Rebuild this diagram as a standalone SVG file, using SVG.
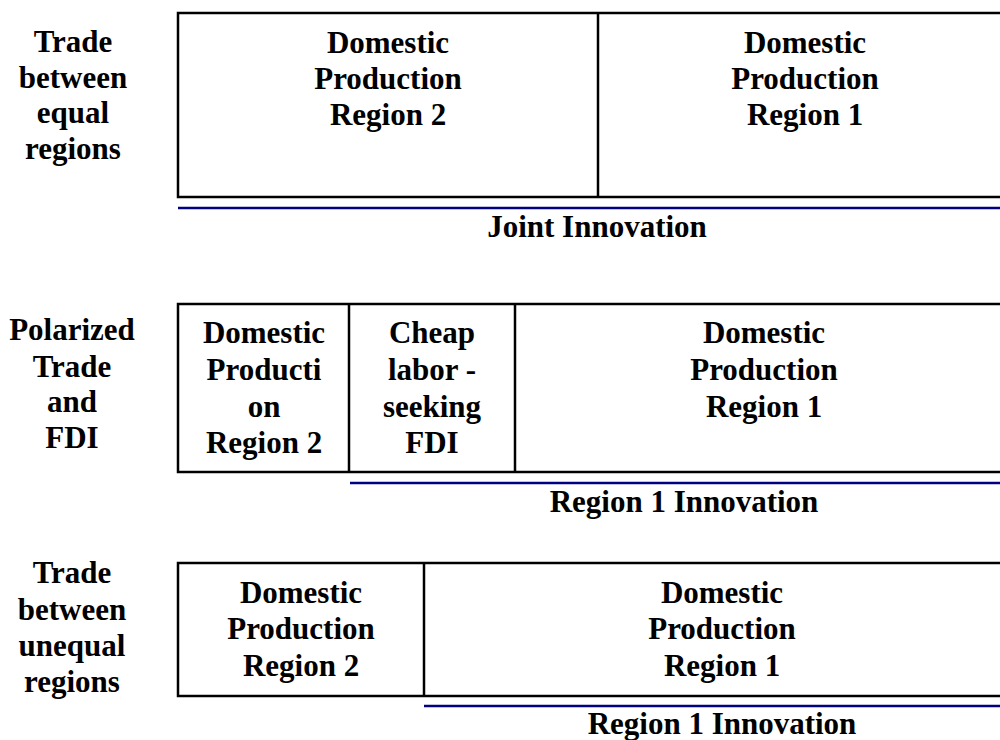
<svg xmlns="http://www.w3.org/2000/svg" width="1000" height="740" viewBox="0 0 1000 740">
<style>
text{font-family:"Liberation Serif","Times New Roman",serif;font-weight:bold;font-size:31px;fill:#000;text-anchor:middle}
.box{fill:#fff;stroke:#000;stroke-width:2.5}
.div{stroke:#000;stroke-width:2.5}
.inn{stroke:#000080;stroke-width:2.5}
</style>
<rect width="1000" height="740" fill="#fff"/>
<g id="label1">
<text x="73" y="52">Trade</text><text x="73" y="88">between</text><text x="73" y="123">equal</text><text x="73" y="159">regions</text>
</g>
<g id="label2">
<text x="72" y="340">Polarized</text><text x="72" y="377">Trade</text><text x="72" y="412">and</text><text x="72" y="448">FDI</text>
</g>
<g id="label3">
<text x="72" y="583">Trade</text><text x="72" y="620">between</text><text x="72" y="656">unequal</text><text x="72" y="692">regions</text>
</g>
<g id="row1">
<rect class="box" x="178" y="13" width="834" height="184"/>
<line class="div" x1="598" y1="13" x2="598" y2="197"/>
<g id="r1-dom2"><text x="388" y="53">Domestic</text><text x="388" y="89">Production</text><text x="388" y="125">Region 2</text></g>
<g id="r1-dom1"><text x="805" y="53">Domestic</text><text x="805" y="89">Production</text><text x="805" y="125">Region 1</text></g>
</g>
<g id="row2">
<rect class="box" x="178" y="304" width="834" height="168"/>
<line class="div" x1="349" y1="304" x2="349" y2="472"/>
<line class="div" x1="515" y1="304" x2="515" y2="472"/>
<g id="r2-dom2"><text x="264" y="343">Domestic</text><text x="264" y="380">Producti</text><text x="264" y="417">on</text><text x="264" y="453">Region 2</text></g>
<g id="r2-fdi"><text x="432" y="343">Cheap</text><text x="432" y="380">labor -</text><text x="432" y="417">seeking</text><text x="432" y="453">FDI</text></g>
<g id="r2-dom1"><text x="764" y="343">Domestic</text><text x="764" y="380">Production</text><text x="764" y="417">Region 1</text></g>
</g>
<g id="row3">
<rect class="box" x="178" y="563" width="842" height="133"/>
<line class="div" x1="424" y1="563" x2="424" y2="696"/>
<g id="r3-dom2"><text x="301" y="603">Domestic</text><text x="301" y="639">Production</text><text x="301" y="676">Region 2</text></g>
<g id="r3-dom1"><text x="722" y="603">Domestic</text><text x="722" y="639">Production</text><text x="722" y="676">Region 1</text></g>
</g>
<g id="innovation">
<line class="inn" x1="178" y1="208" x2="1000" y2="208"/>
<text x="597" y="237">Joint Innovation</text>
<line class="inn" x1="350" y1="483" x2="1000" y2="483"/>
<text x="684" y="512">Region 1 Innovation</text>
<line class="inn" x1="424" y1="706" x2="1000" y2="706"/>
<text x="722" y="734">Region 1 Innovation</text>
</g>
</svg>
